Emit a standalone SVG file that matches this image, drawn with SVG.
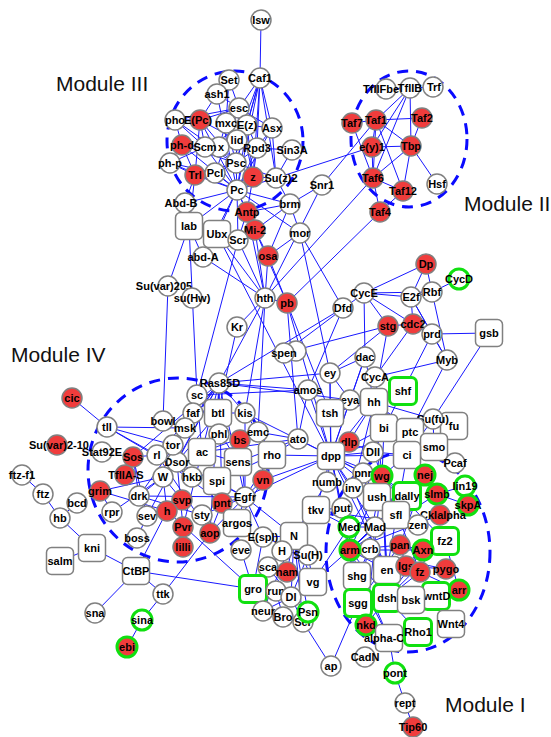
<svg xmlns="http://www.w3.org/2000/svg" width="551" height="737" viewBox="0 0 551 737">
<style>
.e line{stroke:#1818ff;stroke-width:1;fill:none}
.m ellipse{fill:none;stroke:#0a0aff;stroke-width:3;stroke-dasharray:11 8}
.m text{font-family:"Liberation Sans",Arial,sans-serif;font-size:21px;fill:#111}
.w{fill:#fff;stroke:#808080;stroke-width:1.5}
.r{fill:#f03c3c;stroke:#808080;stroke-width:1.5}
.gw{fill:#fff;stroke:#10e010;stroke-width:3}
.gr{fill:#f03c3c;stroke:#10e010;stroke-width:3}
.b{fill:#fff;stroke:#808080;stroke-width:1.5}
.gb{fill:#fff;stroke:#10e010;stroke-width:3}
.n text{font-family:"Liberation Sans",Arial,sans-serif;font-size:11px;font-weight:bold;text-anchor:middle;fill:#000}
</style>
<rect width="551" height="737" fill="#fff"/>

<g id="edges" class="e">
<!-- Polycomb / trithorax cluster -->
<line x1="261" y1="20" x2="260" y2="78"/>
<line x1="260" y1="78" x2="239" y2="108"/>
<line x1="260" y1="78" x2="247" y2="125"/>
<line x1="260" y1="78" x2="237" y2="140"/>
<line x1="260" y1="78" x2="257" y2="148"/>
<line x1="260" y1="78" x2="236" y2="163"/>
<line x1="260" y1="78" x2="253" y2="177"/>
<line x1="260" y1="78" x2="272" y2="128"/>
<line x1="260" y1="78" x2="276" y2="178"/>
<line x1="260" y1="78" x2="237" y2="190"/>
<line x1="229" y1="80" x2="239" y2="108"/>
<line x1="229" y1="80" x2="226" y2="123"/>
<line x1="217" y1="94" x2="239" y2="108"/>
<line x1="217" y1="94" x2="237" y2="190"/>
<line x1="217" y1="94" x2="200" y2="120"/>
<line x1="239" y1="108" x2="175" y2="120"/>
<line x1="239" y1="108" x2="200" y2="120"/>
<line x1="239" y1="108" x2="226" y2="123"/>
<line x1="239" y1="108" x2="247" y2="125"/>
<line x1="239" y1="108" x2="272" y2="128"/>
<line x1="239" y1="108" x2="236" y2="163"/>
<line x1="239" y1="108" x2="215" y2="173"/>
<line x1="239" y1="108" x2="253" y2="177"/>
<line x1="175" y1="120" x2="200" y2="120"/>
<line x1="175" y1="120" x2="182" y2="145"/>
<line x1="175" y1="120" x2="205" y2="147"/>
<line x1="175" y1="120" x2="236" y2="163"/>
<line x1="200" y1="120" x2="205" y2="147"/>
<line x1="200" y1="120" x2="236" y2="163"/>
<line x1="200" y1="120" x2="237" y2="190"/>
<line x1="200" y1="120" x2="237" y2="140"/>
<line x1="200" y1="120" x2="195" y2="175"/>
<line x1="226" y1="123" x2="219" y2="147"/>
<line x1="226" y1="123" x2="236" y2="163"/>
<line x1="247" y1="125" x2="272" y2="128"/>
<line x1="247" y1="125" x2="257" y2="148"/>
<line x1="247" y1="125" x2="237" y2="190"/>
<line x1="247" y1="125" x2="253" y2="177"/>
<line x1="247" y1="125" x2="236" y2="163"/>
<line x1="247" y1="125" x2="205" y2="147"/>
<line x1="272" y1="128" x2="257" y2="148"/>
<line x1="272" y1="128" x2="237" y2="190"/>
<line x1="272" y1="128" x2="276" y2="178"/>
<line x1="237" y1="140" x2="236" y2="163"/>
<line x1="257" y1="148" x2="292" y2="150"/>
<line x1="257" y1="148" x2="253" y2="177"/>
<line x1="257" y1="148" x2="237" y2="190"/>
<line x1="257" y1="148" x2="236" y2="163"/>
<line x1="292" y1="150" x2="276" y2="178"/>
<line x1="182" y1="145" x2="170" y2="163"/>
<line x1="182" y1="145" x2="205" y2="147"/>
<line x1="182" y1="145" x2="236" y2="163"/>
<line x1="182" y1="145" x2="237" y2="190"/>
<line x1="182" y1="145" x2="195" y2="175"/>
<line x1="170" y1="163" x2="195" y2="175"/>
<line x1="170" y1="163" x2="237" y2="190"/>
<line x1="170" y1="163" x2="205" y2="147"/>
<line x1="170" y1="163" x2="215" y2="173"/>
<line x1="195" y1="175" x2="215" y2="173"/>
<line x1="195" y1="175" x2="236" y2="163"/>
<line x1="195" y1="175" x2="237" y2="190"/>
<line x1="195" y1="175" x2="185" y2="203"/>
<line x1="195" y1="175" x2="189" y2="226"/>
<line x1="215" y1="173" x2="236" y2="163"/>
<line x1="215" y1="173" x2="237" y2="190"/>
<line x1="236" y1="163" x2="253" y2="177"/>
<line x1="236" y1="163" x2="237" y2="190"/>
<line x1="236" y1="163" x2="276" y2="178"/>
<line x1="205" y1="147" x2="237" y2="190"/>
<line x1="205" y1="147" x2="236" y2="163"/>
<line x1="219" y1="147" x2="236" y2="163"/>
<line x1="253" y1="177" x2="237" y2="190"/>
<line x1="253" y1="177" x2="276" y2="178"/>
<line x1="253" y1="177" x2="247" y2="212"/>
<line x1="276" y1="178" x2="237" y2="190"/>
<line x1="276" y1="178" x2="372" y2="147"/>
<line x1="237" y1="190" x2="185" y2="203"/>
<line x1="237" y1="190" x2="247" y2="212"/>
<line x1="237" y1="190" x2="217" y2="234"/>
<line x1="237" y1="190" x2="238" y2="240"/>
<line x1="237" y1="190" x2="290" y2="204"/>
<line x1="237" y1="190" x2="255" y2="230"/>
<line x1="237" y1="190" x2="189" y2="226"/>
<line x1="237" y1="190" x2="300" y2="233"/>
<line x1="237" y1="190" x2="203" y2="257"/>
<line x1="290" y1="204" x2="322" y2="185"/>
<line x1="290" y1="204" x2="300" y2="233"/>
<line x1="290" y1="204" x2="268" y2="256"/>
<line x1="290" y1="204" x2="247" y2="212"/>
<line x1="290" y1="204" x2="255" y2="230"/>
<line x1="290" y1="204" x2="276" y2="178"/>
<line x1="322" y1="185" x2="376" y2="120"/>
<line x1="247" y1="212" x2="255" y2="230"/>
<line x1="247" y1="212" x2="265" y2="298"/>
<line x1="247" y1="212" x2="238" y2="240"/>
<line x1="255" y1="230" x2="268" y2="256"/>
<line x1="255" y1="230" x2="265" y2="298"/>
<line x1="255" y1="230" x2="287" y2="303"/>
<line x1="217" y1="234" x2="265" y2="298"/>
<line x1="217" y1="234" x2="238" y2="240"/>
<line x1="217" y1="234" x2="203" y2="257"/>
<line x1="238" y1="240" x2="265" y2="298"/>
<line x1="238" y1="240" x2="197" y2="395"/>
<line x1="203" y1="257" x2="265" y2="298"/>
<line x1="203" y1="257" x2="189" y2="226"/>
<line x1="189" y1="226" x2="168" y2="286"/>
<line x1="168" y1="286" x2="163" y2="421"/>
<line x1="189" y1="226" x2="197" y2="395"/>
<line x1="268" y1="256" x2="300" y2="233"/>
<line x1="268" y1="256" x2="287" y2="303"/>
<line x1="268" y1="256" x2="265" y2="298"/>
<line x1="265" y1="298" x2="287" y2="303"/>
<line x1="322" y1="185" x2="265" y2="298"/>
<line x1="373" y1="178" x2="265" y2="298"/>
<line x1="380" y1="212" x2="287" y2="303"/>
<line x1="300" y1="233" x2="343" y2="308"/>
<line x1="217" y1="234" x2="331" y2="456"/>
<line x1="265" y1="298" x2="245" y2="413"/>
<line x1="265" y1="298" x2="219" y2="383"/>
<line x1="237" y1="327" x2="218" y2="413"/>
<line x1="237" y1="327" x2="265" y2="298"/>
<line x1="287" y1="303" x2="330" y2="413"/>
<line x1="287" y1="303" x2="331" y2="456"/>
<line x1="287" y1="303" x2="298" y2="439"/>
<line x1="265" y1="298" x2="258" y2="432"/>
<line x1="300" y1="233" x2="330" y2="373"/>
<line x1="343" y1="308" x2="308" y2="390"/>
<line x1="343" y1="308" x2="219" y2="383"/>
<!-- TFIID cluster -->
<line x1="386" y1="89" x2="410" y2="88"/>
<line x1="410" y1="88" x2="433" y2="87"/>
<line x1="410" y1="88" x2="376" y2="120"/>
<line x1="410" y1="88" x2="372" y2="147"/>
<line x1="410" y1="88" x2="411" y2="146"/>
<line x1="410" y1="88" x2="373" y2="178"/>
<line x1="352" y1="123" x2="376" y2="120"/>
<line x1="376" y1="120" x2="422" y2="118"/>
<line x1="376" y1="120" x2="411" y2="146"/>
<line x1="376" y1="120" x2="372" y2="147"/>
<line x1="376" y1="120" x2="373" y2="178"/>
<line x1="376" y1="120" x2="403" y2="191"/>
<line x1="422" y1="118" x2="411" y2="146"/>
<line x1="372" y1="147" x2="411" y2="146"/>
<line x1="372" y1="147" x2="373" y2="178"/>
<line x1="411" y1="146" x2="373" y2="178"/>
<line x1="411" y1="146" x2="403" y2="191"/>
<line x1="411" y1="146" x2="437" y2="184"/>
<line x1="373" y1="178" x2="403" y2="191"/>
<line x1="373" y1="178" x2="380" y2="212"/>
<line x1="403" y1="191" x2="380" y2="212"/>
<line x1="352" y1="123" x2="373" y2="178"/>
<!-- cell cycle cluster -->
<line x1="364" y1="293" x2="426" y2="264"/>
<line x1="364" y1="293" x2="411" y2="297"/>
<line x1="364" y1="293" x2="432" y2="292"/>
<line x1="364" y1="293" x2="413" y2="324"/>
<line x1="364" y1="293" x2="388" y2="326"/>
<line x1="364" y1="293" x2="365" y2="357"/>
<line x1="411" y1="297" x2="426" y2="264"/>
<line x1="411" y1="297" x2="432" y2="292"/>
<line x1="411" y1="297" x2="413" y2="324"/>
<line x1="411" y1="297" x2="432" y2="334"/>
<line x1="432" y1="292" x2="426" y2="264"/>
<line x1="432" y1="292" x2="459" y2="279"/>
<line x1="432" y1="292" x2="447" y2="360"/>
<line x1="388" y1="326" x2="413" y2="324"/>
<line x1="388" y1="326" x2="284" y2="353"/>
<line x1="413" y1="324" x2="432" y2="334"/>
<line x1="413" y1="324" x2="375" y2="377"/>
<line x1="432" y1="334" x2="489" y2="333"/>
<line x1="432" y1="334" x2="447" y2="360"/>
<line x1="432" y1="334" x2="384" y2="428"/>
<line x1="489" y1="333" x2="433" y2="419"/>
<line x1="411" y1="297" x2="447" y2="360"/>
<line x1="388" y1="326" x2="374" y2="402"/>
<line x1="388" y1="326" x2="330" y2="373"/>
<line x1="365" y1="357" x2="350" y2="400"/>
<line x1="365" y1="357" x2="330" y2="373"/>
<line x1="365" y1="357" x2="331" y2="456"/>
<line x1="365" y1="357" x2="374" y2="402"/>
<line x1="447" y1="360" x2="375" y2="377"/>
<line x1="447" y1="360" x2="410" y2="432"/>
<line x1="364" y1="293" x2="284" y2="353"/>
<!-- Hh / Dpp / Wg cluster -->
<line x1="330" y1="373" x2="350" y2="400"/>
<line x1="330" y1="373" x2="331" y2="456"/>
<line x1="330" y1="373" x2="330" y2="413"/>
<line x1="219" y1="383" x2="350" y2="400"/>
<line x1="219" y1="383" x2="330" y2="373"/>
<line x1="197" y1="395" x2="308" y2="390"/>
<line x1="308" y1="390" x2="298" y2="439"/>
<line x1="308" y1="390" x2="331" y2="456"/>
<line x1="330" y1="413" x2="331" y2="456"/>
<line x1="330" y1="413" x2="374" y2="402"/>
<line x1="350" y1="400" x2="331" y2="456"/>
<line x1="350" y1="400" x2="374" y2="402"/>
<line x1="349" y1="442" x2="331" y2="456"/>
<line x1="349" y1="442" x2="374" y2="402"/>
<line x1="374" y1="402" x2="410" y2="432"/>
<line x1="374" y1="402" x2="407" y2="455"/>
<line x1="374" y1="402" x2="384" y2="428"/>
<line x1="374" y1="402" x2="434" y2="447"/>
<line x1="374" y1="402" x2="331" y2="456"/>
<line x1="374" y1="402" x2="387" y2="570"/>
<line x1="374" y1="402" x2="403" y2="391"/>
<line x1="374" y1="402" x2="433" y2="419"/>
<line x1="374" y1="402" x2="382" y2="476"/>
<line x1="384" y1="428" x2="331" y2="456"/>
<line x1="384" y1="428" x2="382" y2="476"/>
<line x1="410" y1="432" x2="434" y2="447"/>
<line x1="410" y1="432" x2="407" y2="455"/>
<line x1="410" y1="432" x2="433" y2="419"/>
<line x1="410" y1="432" x2="331" y2="456"/>
<line x1="433" y1="419" x2="454" y2="426"/>
<line x1="433" y1="419" x2="407" y2="455"/>
<line x1="433" y1="419" x2="434" y2="447"/>
<line x1="454" y1="426" x2="407" y2="455"/>
<line x1="454" y1="426" x2="434" y2="447"/>
<line x1="434" y1="447" x2="407" y2="455"/>
<line x1="407" y1="455" x2="455" y2="463"/>
<line x1="407" y1="455" x2="425" y2="475"/>
<line x1="407" y1="455" x2="437" y2="494"/>
<line x1="407" y1="455" x2="382" y2="476"/>
<line x1="407" y1="455" x2="373" y2="452"/>
<line x1="407" y1="455" x2="331" y2="456"/>
<line x1="407" y1="455" x2="387" y2="570"/>
<line x1="455" y1="463" x2="434" y2="447"/>
<line x1="465" y1="486" x2="468" y2="505"/>
<line x1="465" y1="486" x2="437" y2="494"/>
<line x1="468" y1="505" x2="437" y2="494"/>
<line x1="425" y1="475" x2="350" y2="550"/>
<line x1="425" y1="475" x2="400" y2="545"/>
<line x1="425" y1="475" x2="375" y2="527"/>
<line x1="382" y1="476" x2="387" y2="598"/>
<line x1="382" y1="476" x2="420" y2="572"/>
<line x1="382" y1="476" x2="445" y2="541"/>
<line x1="382" y1="476" x2="350" y2="550"/>
<line x1="382" y1="476" x2="407" y2="496"/>
<line x1="382" y1="476" x2="373" y2="452"/>
<line x1="382" y1="476" x2="363" y2="473"/>
<line x1="382" y1="476" x2="387" y2="570"/>
<line x1="382" y1="476" x2="358" y2="603"/>
<line x1="382" y1="476" x2="331" y2="456"/>
<line x1="382" y1="476" x2="366" y2="625"/>
<line x1="382" y1="476" x2="396" y2="515"/>
<line x1="373" y1="452" x2="331" y2="456"/>
<line x1="373" y1="452" x2="349" y2="442"/>
<line x1="363" y1="473" x2="377" y2="497"/>
<line x1="363" y1="473" x2="331" y2="456"/>
<line x1="407" y1="496" x2="396" y2="515"/>
<line x1="407" y1="496" x2="331" y2="456"/>
<line x1="437" y1="494" x2="350" y2="550"/>
<line x1="437" y1="494" x2="440" y2="515"/>
<line x1="440" y1="515" x2="350" y2="550"/>
<line x1="327" y1="482" x2="294" y2="536"/>
<line x1="327" y1="482" x2="331" y2="456"/>
<line x1="353" y1="488" x2="387" y2="570"/>
<line x1="353" y1="488" x2="374" y2="402"/>
<line x1="377" y1="497" x2="382" y2="476"/>
<line x1="418" y1="525" x2="331" y2="456"/>
<line x1="418" y1="525" x2="316" y2="510"/>
<line x1="375" y1="527" x2="316" y2="510"/>
<line x1="375" y1="527" x2="349" y2="527"/>
<line x1="375" y1="527" x2="331" y2="456"/>
<line x1="349" y1="527" x2="316" y2="510"/>
<line x1="349" y1="527" x2="342" y2="508"/>
<line x1="342" y1="508" x2="316" y2="510"/>
<line x1="342" y1="508" x2="331" y2="456"/>
<line x1="316" y1="510" x2="331" y2="456"/>
<line x1="331" y1="456" x2="298" y2="439"/>
<line x1="331" y1="456" x2="272" y2="455"/>
<line x1="331" y1="456" x2="353" y2="488"/>
<line x1="331" y1="456" x2="387" y2="570"/>
<line x1="331" y1="456" x2="358" y2="603"/>
<line x1="331" y1="456" x2="263" y2="480"/>
<line x1="331" y1="456" x2="245" y2="413"/>
<line x1="331" y1="456" x2="245" y2="497"/>
<line x1="331" y1="456" x2="350" y2="550"/>
<line x1="349" y1="527" x2="350" y2="550"/>
<!-- receptor tyrosine kinase cluster -->
<line x1="219" y1="383" x2="218" y2="413"/>
<line x1="219" y1="383" x2="133" y2="457"/>
<line x1="219" y1="383" x2="177" y2="462"/>
<line x1="219" y1="383" x2="157" y2="455"/>
<line x1="219" y1="383" x2="139" y2="496"/>
<line x1="219" y1="383" x2="147" y2="516"/>
<line x1="219" y1="383" x2="173" y2="445"/>
<line x1="219" y1="383" x2="222" y2="503"/>
<line x1="219" y1="383" x2="210" y2="533"/>
<line x1="219" y1="383" x2="245" y2="497"/>
<line x1="219" y1="383" x2="245" y2="413"/>
<line x1="219" y1="383" x2="183" y2="527"/>
<line x1="219" y1="383" x2="308" y2="390"/>
<line x1="218" y1="413" x2="177" y2="462"/>
<line x1="218" y1="413" x2="245" y2="413"/>
<line x1="245" y1="413" x2="245" y2="497"/>
<line x1="245" y1="413" x2="258" y2="432"/>
<line x1="258" y1="432" x2="202" y2="452"/>
<line x1="258" y1="432" x2="298" y2="439"/>
<line x1="202" y1="452" x2="197" y2="395"/>
<line x1="202" y1="452" x2="238" y2="462"/>
<line x1="202" y1="452" x2="298" y2="439"/>
<line x1="238" y1="462" x2="298" y2="439"/>
<line x1="238" y1="462" x2="197" y2="395"/>
<line x1="272" y1="455" x2="245" y2="497"/>
<line x1="272" y1="455" x2="263" y2="480"/>
<line x1="272" y1="455" x2="217" y2="481"/>
<line x1="272" y1="455" x2="298" y2="439"/>
<line x1="217" y1="481" x2="245" y2="497"/>
<line x1="217" y1="481" x2="237" y2="523"/>
<line x1="217" y1="481" x2="222" y2="503"/>
<line x1="263" y1="480" x2="245" y2="497"/>
<line x1="263" y1="480" x2="237" y2="523"/>
<line x1="245" y1="497" x2="237" y2="523"/>
<line x1="245" y1="497" x2="210" y2="533"/>
<line x1="245" y1="497" x2="222" y2="503"/>
<line x1="245" y1="497" x2="202" y2="515"/>
<line x1="245" y1="497" x2="177" y2="462"/>
<line x1="245" y1="497" x2="294" y2="536"/>
<line x1="245" y1="497" x2="263" y2="537"/>
<line x1="245" y1="497" x2="139" y2="496"/>
<line x1="177" y1="462" x2="157" y2="455"/>
<line x1="177" y1="462" x2="173" y2="445"/>
<line x1="177" y1="462" x2="163" y2="477"/>
<line x1="177" y1="462" x2="192" y2="477"/>
<line x1="222" y1="503" x2="210" y2="533"/>
<line x1="222" y1="503" x2="157" y2="455"/>
<line x1="202" y1="515" x2="139" y2="496"/>
<line x1="183" y1="527" x2="177" y2="462"/>
<line x1="210" y1="533" x2="157" y2="455"/>
<line x1="182" y1="500" x2="147" y2="516"/>
<line x1="182" y1="500" x2="163" y2="477"/>
<line x1="192" y1="477" x2="107" y2="427"/>
<line x1="107" y1="427" x2="173" y2="445"/>
<line x1="107" y1="427" x2="157" y2="455"/>
<line x1="107" y1="427" x2="185" y2="428"/>
<line x1="72" y1="398" x2="107" y2="427"/>
<line x1="133" y1="457" x2="139" y2="496"/>
<line x1="133" y1="457" x2="157" y2="455"/>
<line x1="133" y1="457" x2="147" y2="516"/>
<line x1="157" y1="455" x2="173" y2="445"/>
<line x1="100" y1="491" x2="163" y2="477"/>
<line x1="100" y1="491" x2="167" y2="511"/>
<line x1="100" y1="491" x2="112" y2="512"/>
<line x1="112" y1="512" x2="163" y2="477"/>
<line x1="22" y1="475" x2="43" y2="494"/>
<line x1="43" y1="494" x2="60" y2="518"/>
<line x1="60" y1="518" x2="92" y2="548"/>
<line x1="77" y1="503" x2="60" y2="518"/>
<line x1="139" y1="496" x2="147" y2="516"/>
<line x1="147" y1="516" x2="137" y2="538"/>
<line x1="167" y1="511" x2="136" y2="571"/>
<line x1="167" y1="511" x2="253" y2="589"/>
<line x1="92" y1="548" x2="136" y2="571"/>
<line x1="92" y1="548" x2="60" y2="561"/>
<line x1="136" y1="571" x2="95" y2="613"/>
<line x1="136" y1="571" x2="163" y2="594"/>
<line x1="136" y1="571" x2="253" y2="589"/>
<line x1="163" y1="594" x2="142" y2="620"/>
<line x1="142" y1="620" x2="127" y2="647"/>
<line x1="163" y1="594" x2="210" y2="533"/>
<line x1="241" y1="550" x2="253" y2="589"/>
<line x1="167" y1="511" x2="163" y2="477"/>
<line x1="185" y1="428" x2="173" y2="445"/>
<line x1="193" y1="413" x2="219" y2="383"/>
<line x1="219" y1="434" x2="218" y2="413"/>
<line x1="240" y1="440" x2="245" y2="497"/>
<line x1="163" y1="477" x2="139" y2="496"/>
<!-- Notch cluster -->
<line x1="294" y1="536" x2="263" y2="537"/>
<line x1="294" y1="536" x2="282" y2="551"/>
<line x1="294" y1="536" x2="308" y2="555"/>
<line x1="294" y1="536" x2="291" y2="597"/>
<line x1="294" y1="536" x2="303" y2="622"/>
<line x1="294" y1="536" x2="308" y2="612"/>
<line x1="294" y1="536" x2="263" y2="611"/>
<line x1="294" y1="536" x2="268" y2="567"/>
<line x1="294" y1="536" x2="287" y2="572"/>
<line x1="294" y1="536" x2="313" y2="582"/>
<line x1="294" y1="536" x2="253" y2="589"/>
<line x1="294" y1="536" x2="316" y2="510"/>
<line x1="263" y1="537" x2="253" y2="589"/>
<line x1="263" y1="537" x2="308" y2="555"/>
<line x1="282" y1="551" x2="308" y2="555"/>
<line x1="282" y1="551" x2="253" y2="589"/>
<line x1="308" y1="555" x2="313" y2="582"/>
<line x1="308" y1="555" x2="291" y2="597"/>
<line x1="268" y1="567" x2="291" y2="597"/>
<line x1="291" y1="597" x2="303" y2="622"/>
<line x1="291" y1="597" x2="263" y2="611"/>
<line x1="283" y1="617" x2="276" y2="591"/>
<line x1="253" y1="589" x2="276" y2="591"/>
<line x1="308" y1="612" x2="291" y2="597"/>
<line x1="303" y1="622" x2="331" y2="666"/>
<line x1="358" y1="603" x2="331" y2="666"/>
<line x1="313" y1="582" x2="382" y2="476"/>
<line x1="313" y1="582" x2="375" y2="527"/>
<!-- Wnt cluster -->
<line x1="350" y1="550" x2="370" y2="549"/>
<line x1="350" y1="550" x2="400" y2="545"/>
<line x1="350" y1="550" x2="423" y2="550"/>
<line x1="350" y1="550" x2="358" y2="603"/>
<line x1="350" y1="550" x2="357" y2="576"/>
<line x1="350" y1="550" x2="406" y2="566"/>
<line x1="350" y1="550" x2="446" y2="569"/>
<line x1="350" y1="550" x2="389" y2="638"/>
<line x1="350" y1="550" x2="375" y2="527"/>
<line x1="350" y1="550" x2="387" y2="598"/>
<line x1="400" y1="545" x2="406" y2="566"/>
<line x1="400" y1="545" x2="423" y2="550"/>
<line x1="400" y1="545" x2="358" y2="603"/>
<line x1="423" y1="550" x2="358" y2="603"/>
<line x1="423" y1="550" x2="387" y2="598"/>
<line x1="423" y1="550" x2="445" y2="541"/>
<line x1="445" y1="541" x2="387" y2="598"/>
<line x1="420" y1="572" x2="387" y2="598"/>
<line x1="420" y1="572" x2="459" y2="590"/>
<line x1="406" y1="566" x2="446" y2="569"/>
<line x1="387" y1="598" x2="358" y2="603"/>
<line x1="387" y1="598" x2="411" y2="600"/>
<line x1="387" y1="598" x2="366" y2="625"/>
<line x1="387" y1="598" x2="418" y2="632"/>
<line x1="366" y1="625" x2="358" y2="603"/>
<line x1="389" y1="638" x2="357" y2="576"/>
<line x1="389" y1="638" x2="395" y2="673"/>
<line x1="395" y1="673" x2="405" y2="703"/>
<line x1="405" y1="703" x2="413" y2="727"/>
<line x1="445" y1="541" x2="459" y2="590"/>
<line x1="387" y1="570" x2="350" y2="550"/>
<line x1="357" y1="576" x2="370" y2="549"/>
</g>

<g id="modules" class="m">
<ellipse cx="235" cy="141" rx="68" ry="70"/>
<ellipse cx="409" cy="139" rx="58" ry="68"/>
<ellipse cx="178" cy="470" rx="90" ry="92"/>
<ellipse cx="408" cy="552" rx="82" ry="100"/>
<text x="56" y="91">Module III</text>
<text x="464" y="211">Module II</text>
<text x="11" y="362">Module IV</text>
<text x="445" y="712">Module I</text>
</g>

<g id="nodes" class="n">
<g id="n-Isw"><circle class="w" cx="261" cy="20" r="10"/><text x="261" y="24">Isw</text></g>
<g id="n-Caf1"><circle class="w" cx="260" cy="78" r="10"/><text x="260" y="82">Caf1</text></g>
<g id="n-Set"><circle class="w" cx="229" cy="80" r="10"/><text x="229" y="84">Set</text></g>
<g id="n-ash1"><circle class="w" cx="217" cy="94" r="10"/><text x="217" y="98">ash1</text></g>
<g id="n-esc"><circle class="w" cx="239" cy="108" r="10"/><text x="239" y="112">esc</text></g>
<g id="n-pho"><circle class="w" cx="175" cy="120" r="10"/><text x="175" y="124">pho</text></g>
<g id="n-EPc"><circle class="r" cx="200" cy="120" r="10"/><text x="198" y="124">E(Pc)</text></g>
<g id="n-mxc"><circle class="w" cx="226" cy="123" r="10"/><text x="226" y="127">mxc</text></g>
<g id="n-Ez"><circle class="w" cx="247" cy="125" r="10"/><text x="247" y="129">E(z)</text></g>
<g id="n-Asx"><circle class="w" cx="272" cy="128" r="10"/><text x="272" y="132">Asx</text></g>
<g id="n-lid"><circle class="w" cx="237" cy="140" r="10"/><text x="237" y="144">lid</text></g>
<g id="n-Rpd3"><circle class="w" cx="257" cy="148" r="10"/><text x="257" y="152">Rpd3</text></g>
<g id="n-Sin3A"><circle class="w" cx="292" cy="150" r="10"/><text x="292" y="154">Sin3A</text></g>
<g id="n-phd"><circle class="r" cx="182" cy="145" r="10"/><text x="182" y="149">ph-d</text></g>
<g id="n-x"><circle class="w" cx="219" cy="147" r="10"/><text x="221" y="151">x</text></g>
<g id="n-Scm"><circle class="w" cx="205" cy="147" r="10"/><text x="205" y="151">Scm</text></g>
<g id="n-php"><circle class="w" cx="170" cy="163" r="10"/><text x="170" y="167">ph-p</text></g>
<g id="n-Psc"><circle class="w" cx="236" cy="163" r="10"/><text x="236" y="167">Psc</text></g>
<g id="n-Trl"><circle class="r" cx="195" cy="175" r="10"/><text x="195" y="179">Trl</text></g>
<g id="n-Pcl"><circle class="w" cx="215" cy="173" r="10"/><text x="215" y="177">Pcl</text></g>
<g id="n-z"><circle class="r" cx="253" cy="177" r="10"/><text x="253" y="181">z</text></g>
<g id="n-Suz2"><circle class="w" cx="276" cy="178" r="10"/><text x="281" y="182">Su(z)2</text></g>
<g id="n-Pc"><circle class="w" cx="237" cy="190" r="10"/><text x="237" y="194">Pc</text></g>
<g id="n-AbdB"><circle class="w" cx="185" cy="203" r="10"/><text x="181" y="207">Abd-B</text></g>
<g id="n-Antp"><circle class="r" cx="247" cy="212" r="10"/><text x="247" y="216">Antp</text></g>
<g id="n-Snr1"><circle class="w" cx="322" cy="185" r="10"/><text x="322" y="189">Snr1</text></g>
<g id="n-brm"><circle class="w" cx="290" cy="204" r="10"/><text x="290" y="208">brm</text></g>
<g id="n-lab"><rect class="b" x="175.5" y="212.5" width="27" height="27" rx="5"/><text x="189" y="230">lab</text></g>
<g id="n-Ubx"><rect class="b" x="203.5" y="220.5" width="27" height="27" rx="5"/><text x="217" y="238">Ubx</text></g>
<g id="n-Mi2"><circle class="r" cx="255" cy="230" r="10"/><text x="255" y="234">Mi-2</text></g>
<g id="n-Scr"><circle class="w" cx="238" cy="240" r="10"/><text x="238" y="244">Scr</text></g>
<g id="n-mor"><circle class="w" cx="300" cy="233" r="10"/><text x="300" y="237">mor</text></g>
<g id="n-osa"><circle class="r" cx="268" cy="256" r="10"/><text x="268" y="260">osa</text></g>
<g id="n-abdA"><circle class="w" cx="203" cy="257" r="10"/><text x="203" y="261">abd-A</text></g>
<g id="n-Suvar205"><circle class="w" cx="168" cy="286" r="10"/><text x="164" y="290">Su(var)205</text></g>
<g id="n-suHw"><circle class="w" cx="192" cy="298" r="10"/><text x="192" y="302">su(Hw)</text></g>
<g id="n-hth"><circle class="w" cx="265" cy="298" r="10"/><text x="265" y="302">hth</text></g>
<g id="n-pb"><circle class="r" cx="287" cy="303" r="10"/><text x="287" y="307">pb</text></g>
<g id="n-Kr"><circle class="w" cx="237" cy="327" r="10"/><text x="237" y="331">Kr</text></g>
<g id="n-Dfd"><circle class="w" cx="343" cy="308" r="10"/><text x="343" y="312">Dfd</text></g>
<g id="n-spen2"><circle class="w" cx="296" cy="351" r="10"/></g>
<g id="n-spen"><circle class="w" cx="284" cy="353" r="10"/><text x="284" y="357">spen</text></g>

<g id="n-TfIIFbeta"><circle class="w" cx="386" cy="89" r="10"/><text x="386" y="93">TfIIFbeta</text></g>
<g id="n-TfIIB"><circle class="w" cx="410" cy="88" r="10"/><text x="410" y="92">TfIIB</text></g>
<g id="n-Trf"><circle class="w" cx="433" cy="87" r="10"/><text x="434" y="91">Trf</text></g>
<g id="n-Taf7"><circle class="r" cx="352" cy="123" r="10"/><text x="352" y="127">Taf7</text></g>
<g id="n-Taf1"><circle class="r" cx="376" cy="120" r="10"/><text x="376" y="124">Taf1</text></g>
<g id="n-Taf2"><circle class="r" cx="422" cy="118" r="10"/><text x="422" y="122">Taf2</text></g>
<g id="n-ey1"><circle class="r" cx="372" cy="147" r="10"/><text x="372" y="151">e(y)1</text></g>
<g id="n-Tbp"><circle class="r" cx="411" cy="146" r="10"/><text x="411" y="150">Tbp</text></g>
<g id="n-Taf6"><circle class="r" cx="373" cy="178" r="10"/><text x="373" y="182">Taf6</text></g>
<g id="n-Hsf"><circle class="w" cx="437" cy="184" r="10"/><text x="437" y="188">Hsf</text></g>
<g id="n-Taf12"><circle class="r" cx="403" cy="191" r="10"/><text x="403" y="195">Taf12</text></g>
<g id="n-Taf4"><circle class="r" cx="380" cy="212" r="10"/><text x="380" y="216">Taf4</text></g>

<g id="n-Dp"><circle class="r" cx="426" cy="264" r="10"/><text x="426" y="268">Dp</text></g>
<g id="n-CycD"><circle class="gw" cx="459" cy="279" r="10"/><text x="459" y="283">CycD</text></g>
<g id="n-Rbf"><circle class="w" cx="432" cy="292" r="10"/><text x="432" y="296">Rbf</text></g>
<g id="n-E2f"><circle class="w" cx="411" cy="297" r="10"/><text x="411" y="301">E2f</text></g>
<g id="n-CycE"><circle class="w" cx="364" cy="293" r="10"/><text x="364" y="297">CycE</text></g>
<g id="n-stg"><circle class="r" cx="388" cy="326" r="10"/><text x="388" y="330">stg</text></g>
<g id="n-cdc2"><circle class="r" cx="413" cy="324" r="10"/><text x="413" y="328">cdc2</text></g>
<g id="n-prd"><circle class="w" cx="432" cy="334" r="10"/><text x="432" y="338">prd</text></g>
<g id="n-gsb"><rect class="b" x="475.5" y="319.5" width="27" height="27" rx="5"/><text x="489" y="337">gsb</text></g>
<g id="n-Myb"><circle class="w" cx="447" cy="360" r="10"/><text x="447" y="364">Myb</text></g>
<g id="n-dac"><circle class="w" cx="365" cy="357" r="10"/><text x="365" y="361">dac</text></g>
<g id="n-CycA"><circle class="w" cx="375" cy="377" r="10"/><text x="375" y="381">CycA</text></g>
<g id="n-ey"><circle class="w" cx="330" cy="373" r="10"/><text x="330" y="377">ey</text></g>
<g id="n-amos"><circle class="w" cx="308" cy="390" r="10"/><text x="308" y="394">amos</text></g>
<g id="n-eya"><circle class="w" cx="350" cy="400" r="10"/><text x="350" y="404">eya</text></g>
<g id="n-shf"><rect class="gb" x="389.5" y="377.5" width="27" height="27" rx="5"/><text x="403" y="395">shf</text></g>
<g id="n-hh"><rect class="b" x="360.5" y="388.5" width="27" height="27" rx="5"/><text x="374" y="406">hh</text></g>
<g id="n-tsh"><rect class="b" x="316.5" y="399.5" width="27" height="27" rx="5"/><text x="330" y="417">tsh</text></g>
<g id="n-fu"><rect class="b" x="440.5" y="412.5" width="27" height="27" rx="5"/><text x="454" y="430">fu</text></g>
<g id="n-Sufu"><circle class="w" cx="433" cy="419" r="10"/><text x="433" y="423">Su(fu)</text></g>
<g id="n-bi"><rect class="b" x="370.5" y="414.5" width="27" height="27" rx="5"/><text x="384" y="432">bi</text></g>
<g id="n-ptc"><rect class="b" x="396.5" y="418.5" width="27" height="27" rx="5"/><text x="410" y="436">ptc</text></g>
<g id="n-smo"><rect class="b" x="420.5" y="433.5" width="27" height="27" rx="5"/><text x="434" y="451">smo</text></g>
<g id="n-dlp"><circle class="r" cx="349" cy="442" r="10"/><text x="349" y="446">dlp</text></g>
<g id="n-Dll"><circle class="w" cx="373" cy="452" r="10"/><text x="373" y="456">Dll</text></g>
<g id="n-ci"><rect class="b" x="393.5" y="441.5" width="27" height="27" rx="5"/><text x="407" y="459">ci</text></g>
<g id="n-Pcaf"><circle class="w" cx="455" cy="463" r="10"/><text x="455" y="467">Pcaf</text></g>
<g id="n-dpp"><rect class="b" x="317.5" y="442.5" width="27" height="27" rx="5"/><text x="331" y="460">dpp</text></g>
<g id="n-ato"><circle class="w" cx="298" cy="439" r="10"/><text x="298" y="443">ato</text></g>
<g id="n-pnr"><circle class="w" cx="363" cy="473" r="10"/><text x="363" y="477">pnr</text></g>
<g id="n-wg"><circle class="gr" cx="382" cy="476" r="10"/><text x="382" y="480">wg</text></g>
<g id="n-nej"><circle class="gr" cx="425" cy="475" r="10"/><text x="425" y="479">nej</text></g>
<g id="n-lin19"><circle class="gw" cx="465" cy="486" r="10"/><text x="465" y="490">lin19</text></g>
<g id="n-numb"><circle class="w" cx="327" cy="482" r="10"/><text x="327" y="486">numb</text></g>
<g id="n-inv"><circle class="w" cx="353" cy="488" r="10"/><text x="353" y="492">inv</text></g>
<g id="n-ush"><rect class="b" x="363.5" y="483.5" width="27" height="27" rx="5"/><text x="377" y="501">ush</text></g>
<g id="n-dally"><rect class="gb" x="393.5" y="482.5" width="27" height="27" rx="5"/><text x="407" y="500">dally</text></g>
<g id="n-slmb"><circle class="gr" cx="437" cy="494" r="10"/><text x="437" y="498">slmb</text></g>
<g id="n-skpA"><circle class="gr" cx="468" cy="505" r="10"/><text x="468" y="509">skpA</text></g>
<g id="n-Cklalpha"><circle class="r" cx="440" cy="515" r="10"/><text x="443" y="519">Cklalpha</text></g>
<g id="n-sfl"><rect class="b" x="382.5" y="501.5" width="27" height="27" rx="5"/><text x="396" y="519">sfl</text></g>
<g id="n-zen"><circle class="w" cx="418" cy="525" r="10"/><text x="418" y="529">zen</text></g>
<g id="n-put"><circle class="w" cx="342" cy="508" r="10"/><text x="342" y="512">put</text></g>
<g id="n-tkv"><rect class="b" x="302.5" y="496.5" width="27" height="27" rx="5"/><text x="316" y="514">tkv</text></g>
<g id="n-Mad"><circle class="w" cx="375" cy="527" r="10"/><text x="375" y="531">Mad</text></g>
<g id="n-Med"><circle class="gw" cx="349" cy="527" r="10"/><text x="349" y="531">Med</text></g>

<g id="n-sc"><circle class="w" cx="197" cy="395" r="10"/><text x="197" y="399">sc</text></g>
<g id="n-Ras85D"><circle class="w" cx="219" cy="383" r="10"/><text x="220" y="387">Ras85D</text></g>
<g id="n-faf"><circle class="w" cx="193" cy="413" r="10"/><text x="193" y="417">faf</text></g>
<g id="n-btl"><rect class="b" x="204.5" y="399.5" width="27" height="27" rx="5"/><text x="218" y="417">btl</text></g>
<g id="n-kis"><circle class="w" cx="245" cy="413" r="10"/><text x="245" y="417">kis</text></g>
<g id="n-msk"><circle class="w" cx="185" cy="428" r="10"/><text x="185" y="432">msk</text></g>
<g id="n-phl"><circle class="w" cx="219" cy="434" r="10"/><text x="219" y="438">phl</text></g>
<g id="n-bs"><circle class="r" cx="240" cy="440" r="10"/><text x="240" y="444">bs</text></g>
<g id="n-emc"><circle class="w" cx="258" cy="432" r="10"/><text x="258" y="436">emc</text></g>
<g id="n-ac"><rect class="b" x="188.5" y="438.5" width="27" height="27" rx="5"/><text x="202" y="456">ac</text></g>
<g id="n-sens"><rect class="b" x="224.5" y="448.5" width="27" height="27" rx="5"/><text x="238" y="466">sens</text></g>
<g id="n-rho"><rect class="b" x="258.5" y="441.5" width="27" height="27" rx="5"/><text x="272" y="459">rho</text></g>
<g id="n-Dsor"><circle class="w" cx="177" cy="462" r="10"/><text x="177" y="466">Dsor</text></g>
<g id="n-hkb"><circle class="w" cx="192" cy="477" r="10"/><text x="192" y="481">hkb</text></g>
<g id="n-spi"><rect class="b" x="203.5" y="467.5" width="27" height="27" rx="5"/><text x="217" y="485">spi</text></g>
<g id="n-vn"><circle class="r" cx="263" cy="480" r="10"/><text x="263" y="484">vn</text></g>
<g id="n-Egfr"><circle class="w" cx="245" cy="497" r="10"/><text x="245" y="501">Egfr</text></g>
<g id="n-svp"><circle class="r" cx="182" cy="500" r="10"/><text x="182" y="504">svp</text></g>
<g id="n-pnt"><circle class="r" cx="222" cy="503" r="10"/><text x="222" y="507">pnt</text></g>
<g id="n-sty"><circle class="w" cx="202" cy="515" r="10"/><text x="202" y="519">sty</text></g>
<g id="n-argos"><rect class="b" x="223.5" y="509.5" width="27" height="27" rx="5"/><text x="237" y="527">argos</text></g>
<g id="n-Pvr"><circle class="r" cx="183" cy="527" r="10"/><text x="183" y="531">Pvr</text></g>
<g id="n-aop"><circle class="r" cx="210" cy="533" r="10"/><text x="210" y="537">aop</text></g>
<g id="n-Espl"><circle class="w" cx="263" cy="537" r="10"/><text x="263" y="541">E(spl)</text></g>
<g id="n-N"><rect class="b" x="280.5" y="522.5" width="27" height="27" rx="5"/><text x="294" y="540">N</text></g>
<g id="n-cic"><circle class="r" cx="72" cy="398" r="10"/><text x="72" y="402">cic</text></g>
<g id="n-tll"><circle class="w" cx="107" cy="427" r="10"/><text x="107" y="431">tll</text></g>
<g id="n-bowl"><circle class="w" cx="163" cy="421" r="10"/><text x="163" y="425">bowl</text></g>
<g id="n-tor"><circle class="w" cx="173" cy="445" r="10"/><text x="173" y="449">tor</text></g>
<g id="n-Suvar210"><circle class="r" cx="57" cy="445" r="10"/><text x="59" y="449">Su(var)2-10</text></g>
<g id="n-Stat92E"><circle class="w" cx="102" cy="452" r="10"/><text x="102" y="456">Stat92E</text></g>
<g id="n-rl"><circle class="w" cx="157" cy="455" r="10"/><text x="157" y="459">rl</text></g>
<g id="n-Sos"><circle class="r" cx="133" cy="457" r="10"/><text x="133" y="461">Sos</text></g>
<g id="n-TfIIAS"><circle class="r" cx="125" cy="475" r="10"/><text x="126" y="479">TfIIA-S</text></g>
<g id="n-W"><circle class="w" cx="163" cy="477" r="10"/><text x="163" y="481">W</text></g>
<g id="n-ftzf1"><circle class="w" cx="22" cy="475" r="10"/><text x="22" y="479">ftz-f1</text></g>
<g id="n-ftz"><circle class="w" cx="43" cy="494" r="10"/><text x="43" y="498">ftz</text></g>
<g id="n-grim"><circle class="r" cx="100" cy="491" r="10"/><text x="100" y="495">grim</text></g>
<g id="n-bcd"><circle class="w" cx="77" cy="503" r="10"/><text x="77" y="507">bcd</text></g>
<g id="n-drk"><circle class="w" cx="139" cy="496" r="10"/><text x="139" y="500">drk</text></g>
<g id="n-h"><circle class="r" cx="167" cy="511" r="10"/><text x="167" y="515">h</text></g>
<g id="n-rpr"><circle class="w" cx="112" cy="512" r="10"/><text x="112" y="516">rpr</text></g>
<g id="n-hb"><circle class="w" cx="60" cy="518" r="10"/><text x="60" y="522">hb</text></g>
<g id="n-sev"><circle class="w" cx="147" cy="516" r="10"/><text x="147" y="520">sev</text></g>
<g id="n-boss"><circle class="w" cx="137" cy="538" r="10"/><text x="137" y="542">boss</text></g>
<g id="n-kni"><rect class="b" x="78.5" y="534.5" width="27" height="27" rx="5"/><text x="92" y="552">kni</text></g>
<g id="n-salm"><rect class="b" x="46.5" y="547.5" width="27" height="27" rx="5"/><text x="60" y="565">salm</text></g>
<g id="n-CtBP"><rect class="b" x="122.5" y="557.5" width="27" height="27" rx="5"/><text x="136" y="575">CtBP</text></g>
<g id="n-ttk"><circle class="w" cx="163" cy="594" r="10"/><text x="163" y="598">ttk</text></g>
<g id="n-sna"><circle class="w" cx="95" cy="613" r="10"/><text x="95" y="617">sna</text></g>
<g id="n-sina"><circle class="gw" cx="142" cy="620" r="10"/><text x="142" y="624">sina</text></g>
<g id="n-ebi"><circle class="gr" cx="127" cy="647" r="10"/><text x="127" y="651">ebi</text></g>
<g id="n-lilli"><circle class="r" cx="183" cy="547" r="10"/><text x="183" y="551">lilli</text></g>
<g id="n-eve"><circle class="w" cx="241" cy="550" r="10"/><text x="241" y="554">eve</text></g>
<g id="n-H"><circle class="w" cx="282" cy="551" r="10"/><text x="282" y="555">H</text></g>
<g id="n-SuH"><circle class="w" cx="308" cy="555" r="10"/><text x="308" y="559">Su(H)</text></g>
<g id="n-sca"><circle class="w" cx="268" cy="567" r="10"/><text x="268" y="571">sca</text></g>
<g id="n-nam"><circle class="r" cx="287" cy="572" r="10"/><text x="287" y="576">nam</text></g>
<g id="n-vg"><rect class="b" x="299.5" y="568.5" width="27" height="27" rx="5"/><text x="313" y="586">vg</text></g>
<g id="n-gro"><rect class="gb" x="239.5" y="575.5" width="27" height="27" rx="5"/><text x="253" y="593">gro</text></g>
<g id="n-run"><circle class="w" cx="276" cy="591" r="10"/><text x="276" y="595">run</text></g>
<g id="n-Dl"><circle class="w" cx="291" cy="597" r="10"/><text x="291" y="601">Dl</text></g>
<g id="n-neur"><circle class="w" cx="263" cy="611" r="10"/><text x="263" y="615">neur</text></g>
<g id="n-Bro"><circle class="w" cx="283" cy="617" r="10"/><text x="283" y="621">Bro</text></g>
<g id="n-Ser"><circle class="w" cx="303" cy="622" r="10"/><text x="303" y="626">Ser</text></g>
<g id="n-Psn"><circle class="gw" cx="308" cy="612" r="10"/><text x="308" y="616">Psn</text></g>
<g id="n-ap"><circle class="w" cx="331" cy="666" r="10"/><text x="331" y="670">ap</text></g>

<g id="n-crb"><circle class="w" cx="370" cy="549" r="10"/><text x="370" y="553">crb</text></g>
<g id="n-arm"><circle class="gr" cx="350" cy="550" r="10"/><text x="350" y="554">arm</text></g>
<g id="n-pan"><circle class="r" cx="400" cy="545" r="10"/><text x="400" y="549">pan</text></g>
<g id="n-fz2"><rect class="gb" x="431.5" y="527.5" width="27" height="27" rx="5"/><text x="445" y="545">fz2</text></g>
<g id="n-Axn"><circle class="gr" cx="423" cy="550" r="10"/><text x="423" y="554">Axn</text></g>
<g id="n-shg"><rect class="b" x="343.5" y="562.5" width="27" height="27" rx="5"/><text x="357" y="580">shg</text></g>
<g id="n-en"><rect class="b" x="373.5" y="556.5" width="27" height="27" rx="5"/><text x="387" y="574">en</text></g>
<g id="n-lgs"><circle class="r" cx="406" cy="566" r="10"/><text x="406" y="570">lgs</text></g>
<g id="n-fz"><circle class="r" cx="420" cy="572" r="10"/><text x="420" y="576">fz</text></g>
<g id="n-pygo"><circle class="r" cx="446" cy="569" r="10"/><text x="446" y="573">pygo</text></g>
<g id="n-arr"><circle class="gr" cx="459" cy="590" r="10"/><text x="459" y="594">arr</text></g>
<g id="n-sgg"><rect class="gb" x="344.5" y="589.5" width="27" height="27" rx="5"/><text x="358" y="607">sgg</text></g>
<g id="n-wntD"><rect class="gb" x="422.5" y="582.5" width="27" height="27" rx="5"/><text x="437" y="600">wntD</text></g>
<g id="n-dsh"><rect class="gb" x="373.5" y="584.5" width="27" height="27" rx="5"/><text x="387" y="602">dsh</text></g>
<g id="n-bsk"><rect class="b" x="397.5" y="586.5" width="27" height="27" rx="5"/><text x="411" y="604">bsk</text></g>
<g id="n-nkd"><circle class="gr" cx="366" cy="625" r="10"/><text x="366" y="629">nkd</text></g>
<g id="n-alphaCat"><rect class="b" x="375.5" y="624.5" width="27" height="27" rx="5"/><text x="389" y="642">alpha-Cat</text></g>
<g id="n-Rho1"><rect class="gb" x="404.5" y="618.5" width="27" height="27" rx="5"/><text x="418" y="636">Rho1</text></g>
<g id="n-Wnt4"><rect class="b" x="437.5" y="610.5" width="27" height="27" rx="5"/><text x="451" y="628">Wnt4</text></g>
<g id="n-CadN"><circle class="w" cx="365" cy="657" r="10"/><text x="365" y="661">CadN</text></g>
<g id="n-pont"><circle class="gw" cx="395" cy="673" r="10"/><text x="395" y="677">pont</text></g>
<g id="n-rept"><circle class="w" cx="405" cy="703" r="10"/><text x="405" y="707">rept</text></g>
<g id="n-Tip60"><circle class="r" cx="413" cy="727" r="10"/><text x="413" y="731">Tip60</text></g>
</g>
</svg>
